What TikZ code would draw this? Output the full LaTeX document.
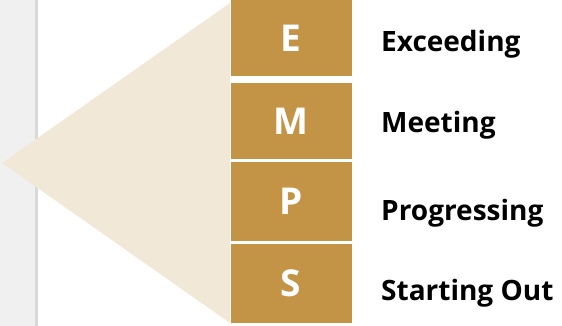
\documentclass[tikz,border=0pt]{standalone}
\usepackage{fontspec}
\setmainfont{Open Sans}
\definecolor{gold}{HTML}{C39446}
\definecolor{sand}{HTML}{F2E8D8}
\definecolor{sidebar}{HTML}{F0F0F0}
\definecolor{sideline}{HTML}{D9D9D9}
\begin{document}
\begin{tikzpicture}[x=1pt,y=-1pt,
  levelbox/.style={fill=gold,draw=none,minimum width=121pt,inner sep=0pt,
    text=white,font=\bfseries\fontsize{37}{37}\selectfont},
  levellabel/.style={anchor=west,inner sep=0pt,text=black,
    font=\bfseries\fontsize{28}{28}\selectfont}]
\useasboundingbox (0,0) rectangle (562,326);
% side panel
\fill[sidebar] (0,0) rectangle (35,326);
\fill[sideline] (35,0) rectangle (37.5,326);
% funnel triangle
\fill[sand] (2,163) -- (230,3) -- (230,323) -- cycle;
% level boxes
\node[levelbox,minimum height=76pt] (e) at (291,38) {E};
\node[levelbox,minimum height=76pt] (m) at (291,121) {M};
\node[levelbox,minimum height=79pt] (p) at (291,201.5) {P};
\node[levelbox,minimum height=79pt] (s) at (291,283.5) {S};
% level names
\node[levellabel] (le) at (381,44) {Exceeding};
\node[levellabel] (lm) at (381,125) {Meeting};
\node[levellabel] (lp) at (381,213) {Progressing};
\node[levellabel] (ls) at (381,293) {Starting Out};
\end{tikzpicture}
\end{document}
